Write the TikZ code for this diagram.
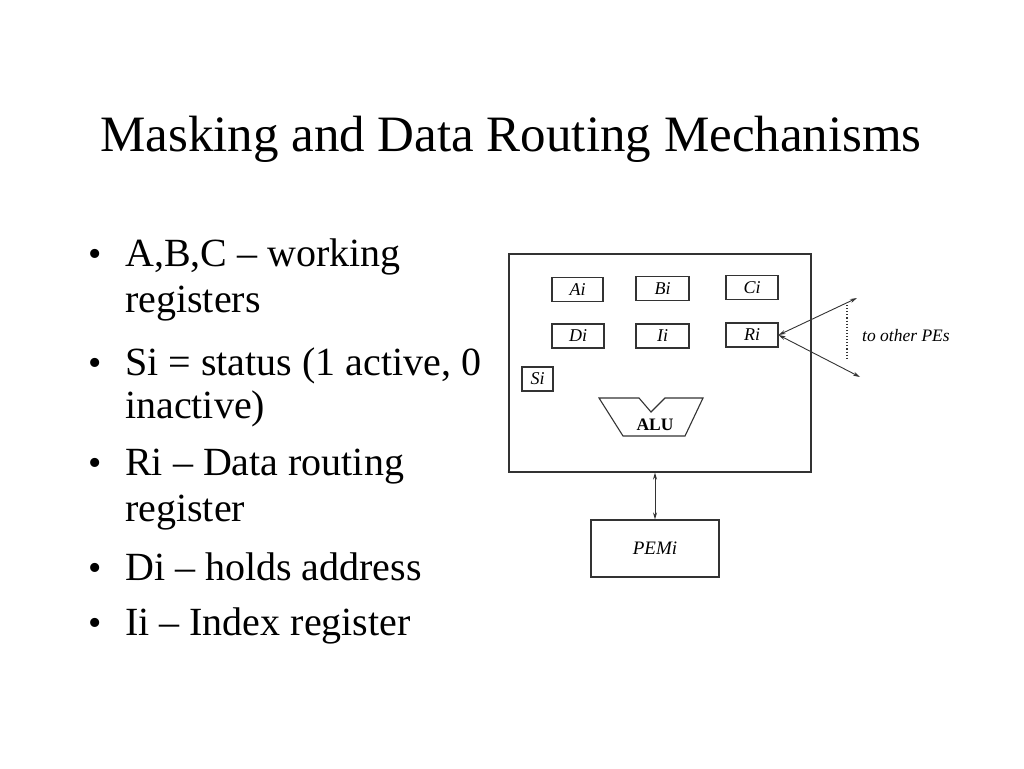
\documentclass[tikz,border=0pt]{standalone}
\usepackage{fontspec}
\setmainfont{Liberation Serif}
\usetikzlibrary{arrows.meta}
\begin{document}
\begin{tikzpicture}[x=1pt,y=-1pt,
  title/.style={anchor=base,inner sep=0pt,font=\fontsize{51}{51}\selectfont},
  bul/.style={anchor=base west,inner sep=0pt,font=\fontsize{40}{40}\selectfont},
  dot/.style={anchor=base,inner sep=0pt,font=\fontsize{38}{38}\selectfont},
  ln/.style={draw=black!80,line width=1.1pt},
  reg/.style={ln,minimum height=24pt,inner sep=0pt,font=\fontsize{18}{18}\selectfont\itshape},
  twoway/.style={black!80,line width=0.9pt,{Stealth[length=7pt,width=4pt]}-{Stealth[length=7pt,width=4pt]}}
]
\useasboundingbox (0,0) rectangle (1024,768);
% title
\node[title] (t) at (511,151) {Masking and Data Routing Mechanisms};
% bullets
\node[dot] (d1) at (95,266) {\textbullet};
\node[bul] (b1a) at (125,266) {A,B,C -- working};
\node[bul] (b1b) at (125,312) {registers};
\node[dot] (d2) at (95,375) {\textbullet};
\node[bul] (b2a) at (125,375) {Si = status (1 active, 0};
\node[bul] (b2b) at (125,418) {inactive)};
\node[dot] (d3) at (95,475) {\textbullet};
\node[bul] (b3a) at (125,475) {Ri -- Data routing};
\node[bul] (b3b) at (125,521) {register};
\node[dot] (d4) at (95,580) {\textbullet};
\node[bul] (b4) at (125,580) {Di -- holds address};
\node[dot] (d5) at (95,635) {\textbullet};
\node[bul] (b5) at (125,635) {Ii -- Index register};
% diagram
\node[ln,minimum width=302pt,minimum height=218pt,inner sep=0pt] (pe) at (660,363) {};
\node[reg,minimum width=51pt] (ai) at (577.5,289.5) {Ai};
\node[reg,minimum width=53pt] (bi) at (662.5,288.5) {Bi};
\node[reg,minimum width=52pt] (ci) at (752,287.5) {Ci};
\node[reg,minimum width=52pt] (di) at (578,336) {Di};
\node[reg,minimum width=53pt] (ii) at (662.5,336) {Ii};
\node[reg,minimum width=52pt] (ri) at (752,335) {Ri};
\node[reg,minimum width=31pt] (si) at (537.5,379) {Si};
% ALU
\draw[ln] (599,398) -- (639,398) -- (651,412) -- (665,398) -- (703,398) -- (685,436) -- (623,436) -- cycle;
\node[inner sep=0pt,font=\fontsize{17.5}{17.5}\selectfont\bfseries] (alu) at (655,425) {ALU};
% routing
\coordinate (up) at (857,298);
\coordinate (dn) at (860,377);
\draw[twoway] (ri.east) -- (up);
\draw[twoway] (ri.east) -- (dn);
\coordinate (dt) at (847,305);
\coordinate (db) at (847,358);
\draw[black!80,line width=1.1pt,dotted] (dt) -- (db);
\node[anchor=base west,inner sep=0pt,font=\fontsize{17.5}{17.5}\selectfont\itshape] (lbl) at (862,341) {to other PEs};
% memory
\node[ln,minimum width=128pt,minimum height=57pt,inner sep=0pt,font=\fontsize{19}{19}\selectfont\itshape] (pem) at (655,548.5) {PEMi};
\draw[twoway] (pem.north) -- (pem.north |- pe.south);
\end{tikzpicture}
\end{document}
